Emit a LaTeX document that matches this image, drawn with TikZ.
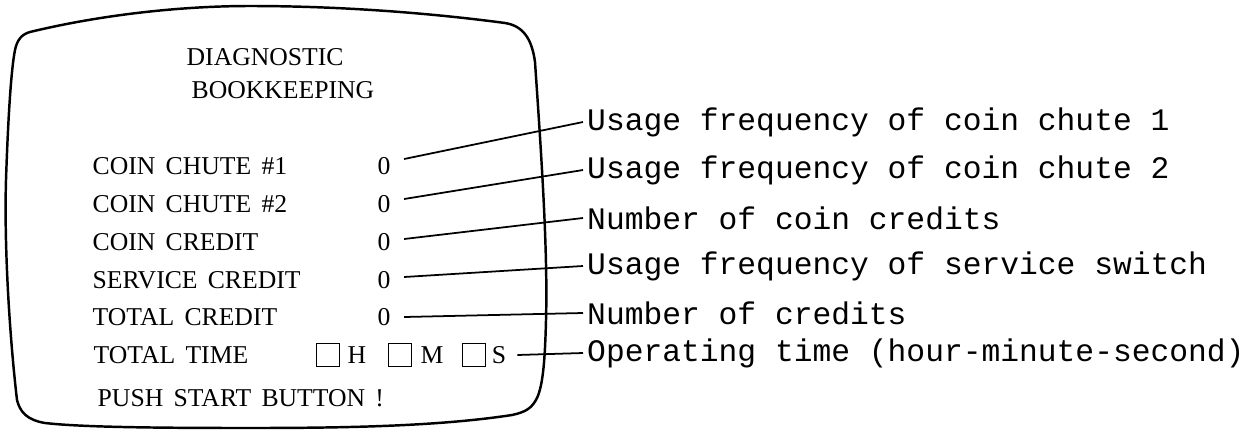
\documentclass[tikz,border=0pt]{standalone}
\usepackage{fontspec}
\setmainfont{Liberation Serif}[WordSpace=1.6]
\newfontfamily\notefont{Liberation Mono}

\begin{document}
\begin{tikzpicture}[x=0.01cm,y=-0.01cm,
	scr/.style={font=\fontsize{7.3}{8}\selectfont,inner sep=0pt},
	zero/.style={scr,inner sep=0pt},
	note/.style={font=\notefont\fontsize{8.9}{10}\selectfont,anchor=west,inner sep=1pt},
	tbox/.style={draw,line width=0.4pt,minimum size=6.5pt,inner sep=0pt},
	lead/.style={line width=0.5pt}]
	\useasboundingbox (0,0) rectangle (1255,430);
	% screen
	\draw[line width=0.7pt] (30,32) .. controls (100,15) and (180,6) .. (250,6)
		.. controls (340,6) and (430,13) .. (505,23) .. controls (524,26) and (532,40) .. (535,62)
		.. controls (541,150) and (548,250) .. (546,320) .. controls (545,360) and (543,385) .. (537,398)
		.. controls (532,408) and (526,412) .. (512,415) .. controls (440,426) and (350,428) .. (250,428)
		.. controls (150,428) and (80,427) .. (45,423) .. controls (27,420) and (20,412) .. (17,400)
		.. controls (10,340) and (4,250) .. (6,180) .. controls (8,120) and (11,70) .. (15,50)
		.. controls (17,40) and (22,34) .. (30,32) -- cycle;
	\node[scr,anchor=west] (diag) at (186,57) {DIAGNOSTIC};
	\node[scr,anchor=west] (book) at (191,90) {BOOKKEEPING};
	% counters
	\foreach \i/\y/\ny/\dy/\item/\txt in {1/166/122/-7/COIN CHUTE \#1/Usage frequency of coin chute 1,
			2/204/170/-5/COIN CHUTE \#2/Usage frequency of coin chute 2,
			3/242/218/-3/COIN CREDIT/Number of coin credits,
			4/280/266/-3/SERVICE CREDIT/Usage frequency of service switch,
			5/317/313/0/TOTAL CREDIT/Number of credits}{
		\node[scr,anchor=west] (item\i) at (92,\y) {\item};
		\node[zero] (val\i) at (384,\y) {0};
		\node[note] (note\i) at (583,\ny) {\txt};
		\draw[lead] ([shift={(13,\dy)}]val\i.east) -- (note\i.west);
	}
	% time
	\node[scr,anchor=west] (item6) at (93,355) {TOTAL TIME};
	\node[tbox] (hbox) at (328,355) {};
	\node[scr,anchor=west] (hr) at (347,355) {H};
	\node[tbox] (mbox) at (400,355) {};
	\node[scr,anchor=west] (mn) at (420,355) {M};
	\node[tbox] (sbox) at (474,355) {};
	\node[scr,inner sep=3pt] (sc) at (499,355) {S};
	\node[note] (note6) at (583,353) {Operating time (hour-minute-second)};
	\draw[lead] (sc.east) -- (note6.west);
	\node[scr,anchor=west] (push) at (97,398) {PUSH START BUTTON !};
\end{tikzpicture}
\end{document}
